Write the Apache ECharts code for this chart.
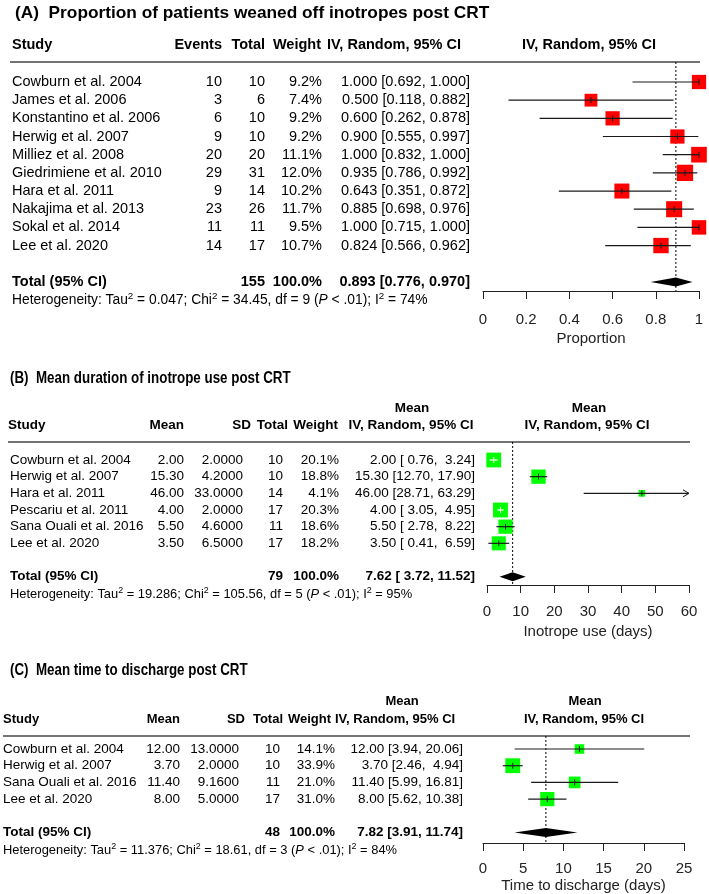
<!DOCTYPE html>
<html><head><meta charset="utf-8">
<script src="https://cdn.jsdelivr.net/npm/echarts@6/dist/echarts.min.js"></script>
<style>html,body{margin:0;padding:0;background:#fff}#c{width:709px;height:894px}</style>
</head><body><div id="c"></div>
<script>
// ---------- Panel A data ----------
const studiesA = ['Cowburn et al. 2004','James et al. 2006','Konstantino et al. 2006','Herwig et al. 2007','Milliez et al. 2008','Giedrimiene et al. 2010','Hara et al. 2011','Nakajima et al. 2013','Sokal et al. 2014','Lee et al. 2020'];
const eventsA = [10,3,6,9,20,29,9,23,11,14];
const totalA = [10,6,10,10,20,31,14,26,11,17];
const weightA = [9.2,7.4,9.2,9.2,11.1,12.0,10.2,11.7,9.5,10.7];
const estA = [1.000,0.500,0.600,0.900,1.000,0.935,0.643,0.885,1.000,0.824];
const lowerA = [0.692,0.118,0.262,0.555,0.832,0.786,0.351,0.698,0.715,0.566];
const upperA = [1.000,0.882,0.878,0.997,1.000,0.992,0.872,0.976,1.000,0.962];
const pooledA = [0.893,0.776,0.970];
const totalNA = 155;
const hetA = ['0.047','34.45','9','74%'];

// ---------- Panel B data ----------
const studiesB = ['Cowburn et al. 2004','Herwig et al. 2007','Hara et al. 2011','Pescariu et al. 2011','Sana Ouali et al. 2016','Lee et al. 2020'];
const meanB = [2.00,15.30,46.00,4.00,5.50,3.50];
const sdB = [2.0,4.2,33.0,2.0,4.6,6.5];
const nB = [10,10,14,17,11,17];
const weightB = [20.1,18.8,4.1,20.3,18.6,18.2];
const lowerB = [0.76,12.70,28.71,3.05,2.78,0.41];
const upperB = [3.24,17.90,63.29,4.95,8.22,6.59];
const pooledB = [7.62,3.72,11.52];
const totalNB = 79;
const hetB = ['19.286','105.56','5','95%'];

// ---------- Panel C data ----------
const studiesC = ['Cowburn et al. 2004','Herwig et al. 2007','Sana Ouali et al. 2016','Lee et al. 2020'];
const meanC = [12.00,3.70,11.40,8.00];
const sdC = [13.0,2.0,9.16,5.0];
const nC = [10,10,11,17];
const weightC = [14.1,33.9,21.0,31.0];
const lowerC = [3.94,2.46,5.99,5.62];
const upperC = [20.06,4.94,16.81,10.38];
const pooledC = [7.82,3.91,11.74];
const totalNC = 48;
const hetC = ['11.376','18.61','3','84%'];

// ---------- axis ranges ----------
const xRangeA = [0,1,0.2], xRangeB = [0,60,10], xRangeC = [0,25,5];

const FONT = "'Liberation Sans', Arial, Helvetica, sans-serif";
const pad = (s,n)=>{s=String(s);while(s.length<n)s=' '+s;return s;};

const chart = echarts.init(document.getElementById('c'), null, {renderer:'canvas'});

// layout per panel
const L = {
  A:{left:483,width:216,top:62,height:229,yMin:-1.1,yMax:11.5,fs:14.5,hfs:13.8,k:4.7,color:'#ff0000',labelMargin:21,nameGap:40},
  B:{left:487,width:202,top:442,height:143,yMin:-1.08,yMax:7.5,fs:13.5,hfs:12.9,k:3.3,color:'#00ff00',labelMargin:19,nameGap:39},
  C:{left:483,width:201,top:736,height:107,yMin:-0.78,yMax:5.63,fs:13.5,hfs:12.9,k:2.55,color:'#00ff00',labelMargin:18,nameGap:35}
};

function forestSeries(idx, est, lo, hi, w, color, k, xMax){
  return {type:'custom', xAxisIndex:idx, yAxisIndex:idx, clip:false, silent:true, z:4,
    data: est.map((e,i)=>[e, lo[i], hi[i], w[i], i]),
    renderItem:(params, api)=>{
      const e=api.value(0), l=api.value(1), h=api.value(2), wt=api.value(3), row=api.value(4);
      const c=api.coord([e,row]);
      const a=api.coord([l,row]);
      const clipped = h > xMax;
      const b=api.coord([clipped?xMax:h,row]);
      const s=k*Math.sqrt(wt);
      const inside = a[0] >= c[0]-s/2 && b[0] <= c[0]+s/2;
      const lc = inside ? '#ffffff' : '#1a1a1a';
      const ch = [
        {type:'rect', shape:{x:c[0]-s/2,y:c[1]-s/2,width:s,height:s}, style:{fill:color}},
        {type:'line', shape:{x1:a[0],y1:c[1],x2:b[0],y2:c[1]}, style:{stroke:lc,lineWidth:1.2}},
        {type:'line', shape:{x1:c[0],y1:c[1]-3,x2:c[0],y2:c[1]+3}, style:{stroke:lc,lineWidth:1}}
      ];
      if (clipped) ch.push({type:'polyline', shape:{points:[[b[0]-6,c[1]-3.5],[b[0],c[1]],[b[0]-6,c[1]+3.5]]}, style:{stroke:'#1a1a1a',lineWidth:1,fill:null}});
      return {type:'group', children:ch};
    }};
}
function diamondSeries(idx, p, row){
  return {type:'custom', xAxisIndex:idx, yAxisIndex:idx, clip:false, silent:true, z:4,
    data:[[p[0],p[1],p[2],row]],
    renderItem:(params, api)=>{
      const c=api.coord([api.value(0),api.value(3)]);
      const a=api.coord([api.value(1),api.value(3)]);
      const b=api.coord([api.value(2),api.value(3)]);
      return {type:'polygon', shape:{points:[[a[0],c[1]],[c[0],c[1]-4.5],[b[0],c[1]],[c[0],c[1]+4.5]]}, style:{fill:'#000'}};
    }};
}
function refLine(idx, est, lay){
  return {type:'line', xAxisIndex:idx, yAxisIndex:idx, silent:true, symbol:'none', z:3,
    data:[[est, lay.yMin],[est, lay.yMax]], lineStyle:{color:'#000',width:1,type:[2,2]}};
}
function tableSeries(idx, rows, cols, fs, fw){
  return {type:'custom', xAxisIndex:idx, yAxisIndex:idx, clip:false, silent:true, z:5,
    data: rows.map(r=>[0,r]),
    renderItem:(params, api)=>{
      const y = api.coord([0, api.value(1)])[1];
      const i = params.dataIndex;
      return {type:'group', children: cols.map(c=>({type:'text', x:c.x, y:y, style:{text:String(c.t(i)), fill:'#000', fontFamily:FONT, fontSize:fs, fontWeight:fw||'normal', align:c.align, verticalAlign:'middle'}}))};
    }};
}
function hetSeries(idx, row, x, h, fs){
  return {type:'custom', xAxisIndex:idx, yAxisIndex:idx, clip:false, silent:true, z:5,
    data:[[0,row]],
    renderItem:(params, api)=>{
      const y = api.coord([0, api.value(1)])[1];
      const txt = '{n|Heterogeneity: Tau}{s|2}{n| = '+h[0]+'; Chi}{s|2}{n| = '+h[1]+', df = '+h[2]+' (}{i|P}{n| < .01); I}{s|2}{n| = '+h[3]+'}';
      return {type:'text', x:x, y:y, style:{text:txt, align:'left', verticalAlign:'middle',
        rich:{n:{fontFamily:FONT,fontSize:fs,fill:'#000',lineHeight:fs+4},
              i:{fontFamily:FONT,fontSize:fs,fontStyle:'italic',fill:'#000',lineHeight:fs+4},
              s:{fontFamily:FONT,fontSize:fs-4,fill:'#000',verticalAlign:'top',lineHeight:fs-3}}}};
    }};
}
function axisPair(idx, lay, range, name){
  return {
    x:{gridIndex:idx, type:'value', min:range[0], max:range[1], interval:range[2], position:'bottom',
      axisLine:{show:true,onZero:false,lineStyle:{color:'#222',width:1}},
      axisTick:{show:true,inside:false,length:8,lineStyle:{color:'#222',width:1}},
      axisLabel:{fontFamily:FONT,fontSize:15,color:'#222',margin:lay.labelMargin},
      splitLine:{show:false},
      name:name, nameLocation:'middle', nameGap:lay.nameGap,
      nameTextStyle:{fontFamily:FONT,fontSize:15,color:'#222'}},
    y:{gridIndex:idx, type:'value', min:lay.yMin, max:lay.yMax, inverse:true, show:false,
      axisLine:{show:false}, splitLine:{show:false}}
  };
}
const axA = axisPair(0, L.A, xRangeA, 'Proportion');
const axB = axisPair(1, L.B, xRangeB, 'Inotrope use (days)');
const axC = axisPair(2, L.C, xRangeC, 'Time to discharge (days)');

const rowsA = studiesA.map((_,i)=>i), totRowA = studiesA.length+1;
const rowsB = studiesB.map((_,i)=>i), totRowB = studiesB.length+1;
const rowsC = studiesC.map((_,i)=>i), totRowC = studiesC.length+1;

const ciA = i=>estA[i].toFixed(3)+' ['+lowerA[i].toFixed(3)+', '+upperA[i].toFixed(3)+']';
const ciB = i=>meanB[i].toFixed(2)+' ['+pad(lowerB[i].toFixed(2),5)+', '+pad(upperB[i].toFixed(2),5)+']';
const ciC = i=>meanC[i].toFixed(2)+' ['+pad(lowerC[i].toFixed(2),4)+', '+pad(upperC[i].toFixed(2),5)+']';

const colsA = [
  {x:12,align:'left',t:i=>studiesA[i]},
  {x:222,align:'right',t:i=>eventsA[i]},
  {x:265,align:'right',t:i=>totalA[i]},
  {x:322,align:'right',t:i=>weightA[i].toFixed(1)+'%'},
  {x:470,align:'right',t:ciA}];
const totColsA = [
  {x:12,align:'left',t:()=>'Total (95% CI)'},
  {x:265,align:'right',t:()=>totalNA},
  {x:322,align:'right',t:()=>'100.0%'},
  {x:470,align:'right',t:()=>pooledA[0].toFixed(3)+' ['+pooledA[1].toFixed(3)+', '+pooledA[2].toFixed(3)+']'}];
const colsB = [
  {x:10,align:'left',t:i=>studiesB[i]},
  {x:184,align:'right',t:i=>meanB[i].toFixed(2)},
  {x:243,align:'right',t:i=>sdB[i].toFixed(4)},
  {x:283,align:'right',t:i=>nB[i]},
  {x:339,align:'right',t:i=>weightB[i].toFixed(1)+'%'},
  {x:475,align:'right',t:ciB}];
const totColsB = [
  {x:10,align:'left',t:()=>'Total (95% CI)'},
  {x:283,align:'right',t:()=>totalNB},
  {x:339,align:'right',t:()=>'100.0%'},
  {x:475,align:'right',t:()=>pooledB[0].toFixed(2)+' ['+pad(pooledB[1].toFixed(2),5)+', '+pad(pooledB[2].toFixed(2),5)+']'}];
const colsC = [
  {x:3,align:'left',t:i=>studiesC[i]},
  {x:180,align:'right',t:i=>meanC[i].toFixed(2)},
  {x:239,align:'right',t:i=>sdC[i].toFixed(4)},
  {x:280,align:'right',t:i=>nC[i]},
  {x:335,align:'right',t:i=>weightC[i].toFixed(1)+'%'},
  {x:463,align:'right',t:ciC}];
const totColsC = [
  {x:3,align:'left',t:()=>'Total (95% CI)'},
  {x:280,align:'right',t:()=>totalNC},
  {x:335,align:'right',t:()=>'100.0%'},
  {x:463,align:'right',t:()=>pooledC[0].toFixed(2)+' ['+pad(pooledC[1].toFixed(2),4)+', '+pad(pooledC[2].toFixed(2),5)+']'}];

function T(x,y,text,fs,opt){
  return Object.assign({type:'text', x:x, y:y, silent:true,
    style:Object.assign({text:text, fill:'#000', fontFamily:FONT, fontSize:fs, fontWeight:'bold', align:'left', verticalAlign:'middle'}, opt||{})});
}
function HL(x1,x2,y){ return {type:'line', silent:true, shape:{x1:x1,y1:y,x2:x2,y2:y}, style:{stroke:'#444',lineWidth:1.5}}; }

const graphics = [
  T(15,13,'(A)  Proportion of patients weaned off inotropes post CRT',17.3),
  T(12,45,'Study',14.5),
  T(222,45,'Events',14.5,{align:'right'}),
  T(265,45,'Total',14.5,{align:'right'}),
  T(321,45,'Weight',14.5,{align:'right'}),
  T(327,45,'IV, Random, 95% CI',14.5),
  T(589,45,'IV, Random, 95% CI',14.5,{align:'center'}),
  HL(10,700,62),

  Object.assign(T(10,378,'(B)  Mean duration of inotrope use post CRT',16.5),{scaleX:0.81}),
  T(8,425,'Study',13.5),
  T(184,425,'Mean',13.5,{align:'right'}),
  T(251,425,'SD',13.5,{align:'right'}),
  T(288,425,'Total',13.5,{align:'right'}),
  T(338,425,'Weight',13.5,{align:'right'}),
  T(412,408,'Mean',13.5,{align:'center'}),
  T(411,425,'IV, Random, 95% CI',13.5,{align:'center'}),
  T(589,408,'Mean',13.5,{align:'center'}),
  T(587,425,'IV, Random, 95% CI',13.5,{align:'center'}),
  HL(8,690,442),

  Object.assign(T(10,670,'(C)  Mean time to discharge post CRT',16.5),{scaleX:0.81}),
  T(3,719,'Study',13),
  T(180,719,'Mean',13,{align:'right'}),
  T(245,719,'SD',13,{align:'right'}),
  T(283,719,'Total',13,{align:'right'}),
  T(331,719,'Weight',13,{align:'right'}),
  T(402,701,'Mean',13,{align:'center'}),
  T(335,719,'IV, Random, 95% CI',13),
  T(585,701,'Mean',13,{align:'center'}),
  T(584,719,'IV, Random, 95% CI',13,{align:'center'}),
  HL(3,690,736)
];

const option = {
  animation:false,
  backgroundColor:'#fff',
  grid:[
    {left:L.A.left,width:L.A.width,top:L.A.top,height:L.A.height,outerBoundsMode:'none',containLabel:false},
    {left:L.B.left,width:L.B.width,top:L.B.top,height:L.B.height,outerBoundsMode:'none',containLabel:false},
    {left:L.C.left,width:L.C.width,top:L.C.top,height:L.C.height,outerBoundsMode:'none',containLabel:false}
  ],
  xAxis:[axA.x,axB.x,axC.x],
  yAxis:[axA.y,axB.y,axC.y],
  graphic:{elements:graphics},
  series:[
    refLine(0,pooledA[0],L.A),
    forestSeries(0,estA,lowerA,upperA,weightA,L.A.color,L.A.k,xRangeA[1]),
    diamondSeries(0,pooledA,totRowA),
    tableSeries(0,rowsA,colsA,L.A.fs),
    tableSeries(0,[totRowA],totColsA,L.A.fs,'bold'),
    hetSeries(0,totRowA+1,12,hetA,L.A.hfs),

    refLine(1,pooledB[0],L.B),
    forestSeries(1,meanB,lowerB,upperB,weightB,L.B.color,L.B.k,xRangeB[1]),
    diamondSeries(1,pooledB,totRowB),
    tableSeries(1,rowsB,colsB,L.B.fs),
    tableSeries(1,[totRowB],totColsB,L.B.fs,'bold'),
    hetSeries(1,totRowB+1.05,10,hetB,L.B.hfs),

    refLine(2,pooledC[0],L.C),
    forestSeries(2,meanC,lowerC,upperC,weightC,L.C.color,L.C.k,xRangeC[1]),
    diamondSeries(2,pooledC,totRowC),
    tableSeries(2,rowsC,colsC,L.C.fs),
    tableSeries(2,[totRowC],totColsC,L.C.fs,'bold'),
    hetSeries(2,totRowC+1.1,3,hetC,L.C.hfs)
  ]
};
chart.setOption(option);
</script>
</body></html>
